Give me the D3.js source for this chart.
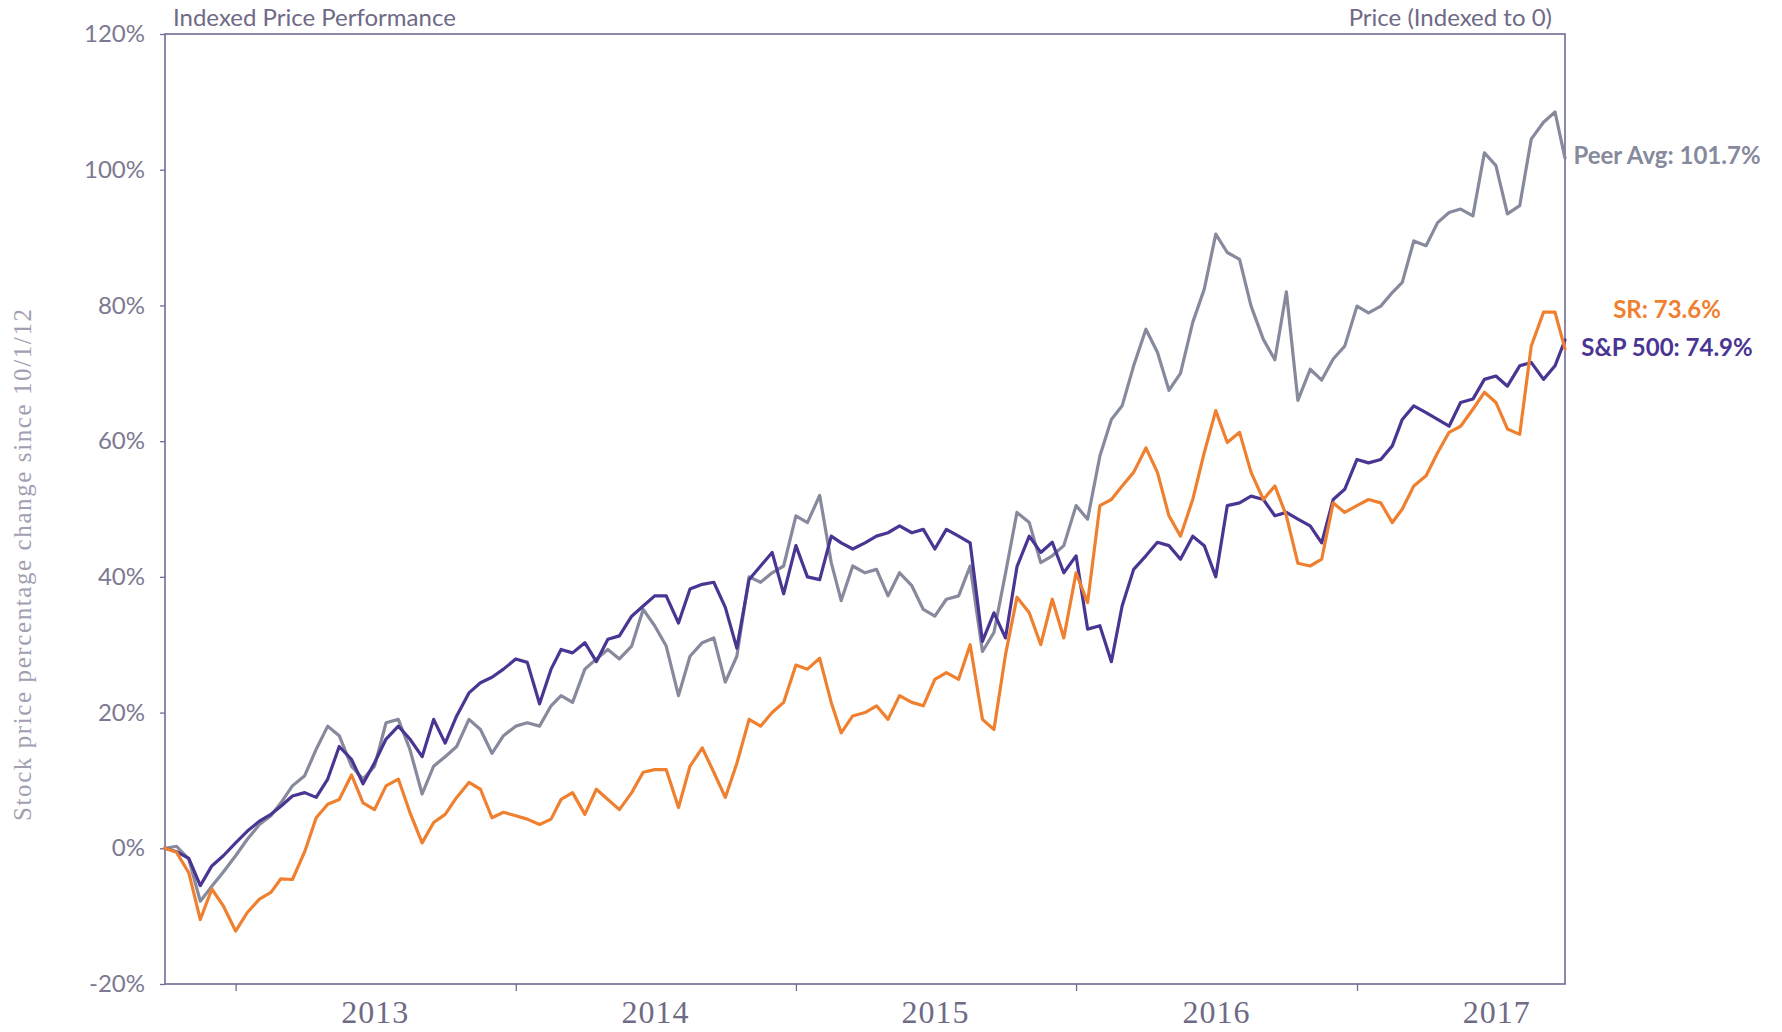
<!DOCTYPE html>
<html>
<head>
<meta charset="utf-8">
<style>
  body { margin: 0; background: #fff; }
  .series { fill: none; stroke-width: 3.2px; stroke-linejoin: round; stroke-linecap: round; }
  .frame { fill: none; stroke: #6f6b94; stroke-width: 1.6px; }
  .axis text { font-family: Lato, sans-serif; font-size: 24px; fill: #7d7891; }
  .axis line { stroke: #6f6b94; stroke-width: 1.3px; }
  .head { font-family: Lato, sans-serif; font-size: 24px; fill: #6f6a85; }
  .year { font-family: "Liberation Serif", serif; font-size: 32px; fill: #6f6a85; letter-spacing: 1px; }
  .ytitle { font-family: "Liberation Serif", serif; font-size: 25px; fill: #a49eb3; }
  .endlab { font-family: Lato, sans-serif; font-size: 24px; font-weight: bold; }
</style>
</head>
<body>
<svg width="1782" height="1032"></svg>
<script src="https://d3js.org/d3.v7.min.js"></script>
<script>

// semi-monthly readings (1st and 16th of each month), 10/1/12 .. 9/29/17, % change
var peerAvg = [0, 0.3, -1.6, -7.8, -5.6, -3.5, -1.1, 1.3, 3.5, 4.8,
  6.7, 9.2, 10.7, 14.6, 18.0, 16.6, 12.1, 10.2, 12.1, 18.5,
  19.0, 14.6, 8.0, 12.1, 13.5, 15.0, 19.0, 17.5, 14.0, 16.6,
  18.0, 18.5, 18.0, 21.0, 22.5, 21.5, 26.4, 27.9, 29.3, 27.9,
  29.8, 35.2, 32.8, 29.8, 22.5, 28.3, 30.3, 31.0, 24.5, 28.3,
  40.0, 39.2, 40.6, 41.6, 49.0, 48.0, 52.0, 42.1, 36.5, 41.6,
  40.6, 41.1, 37.2, 40.6, 38.7, 35.2, 34.2, 36.7, 37.2, 41.6,
  29.0, 31.8, 40.5, 49.5, 48.0, 42.1, 43.1, 44.6, 50.5, 48.5,
  57.8, 63.2, 65.2, 71.1, 76.5, 73.1, 67.5, 70.0, 77.5, 82.4,
  90.5, 87.8, 86.8, 79.9, 75.0, 72.0, 82.0, 66.0, 70.6, 69.0,
  72.1, 74.0, 79.9, 78.9, 79.9, 81.9, 83.4, 89.5, 88.8, 92.2,
  93.7, 94.2, 93.2, 102.5, 100.6, 93.5, 94.7, 104.5, 107.0, 108.5,
  101.7];

var sp500 = [0, -0.5, -1.5, -5.5, -2.6, -1.1, 0.8, 2.5, 4.0, 5.0,
  6.2, 7.7, 8.2, 7.5, 10.2, 15.0, 13.1, 9.5, 12.6, 16.1,
  18.0, 16.1, 13.5, 19.0, 15.5, 19.5, 22.9, 24.4, 25.2, 26.4,
  27.9, 27.4, 21.3, 26.4, 29.3, 28.8, 30.3, 27.5, 30.8, 31.3,
  34.2, 35.7, 37.2, 37.2, 33.2, 38.2, 38.9, 39.2, 35.5, 29.5,
  39.6, 41.6, 43.6, 37.5, 44.6, 40.0, 39.6, 46.0, 45.0, 44.1,
  45.0, 46.0, 46.5, 47.5, 46.5, 47.0, 44.1, 47.0, 46.0, 45.0,
  30.5, 34.7, 31.0, 41.5, 46.0, 43.6, 45.1, 40.6, 43.1, 32.3,
  32.8, 27.5, 35.7, 41.1, 43.1, 45.1, 44.6, 42.6, 46.0, 44.6,
  40.0, 50.5, 50.9, 51.9, 51.4, 49.0, 49.5, 48.5, 47.5, 45.0,
  51.4, 52.9, 57.3, 56.8, 57.3, 59.3, 63.2, 65.2, 64.2, 63.2,
  62.2, 65.7, 66.2, 69.1, 69.6, 68.1, 71.1, 71.6, 69.1, 71.1,
  74.9];

var sr = [0, -0.6, -3.6, -10.5, -6.0, -8.5, -12.2, -9.5, -7.5, -6.5,
  -4.5, -4.6, -0.5, 4.5, 6.5, 7.2, 10.8, 6.7, 5.7, 9.2,
  10.2, 5.3, 0.8, 3.8, 5.0, 7.5, 9.7, 8.7, 4.5, 5.3,
  4.8, 4.3, 3.5, 4.3, 7.2, 8.2, 5.0, 8.7, 7.2, 5.7,
  8.2, 11.2, 11.6, 11.6, 6.0, 12.1, 14.8, 11.2, 7.5, 12.5,
  19.0, 18.0, 20.0, 21.5, 27.0, 26.4, 28.0, 21.5, 17.0, 19.5,
  20.0, 21.0, 19.0, 22.5, 21.5, 21.0, 24.9, 25.9, 24.9, 30.0,
  19.0, 17.5, 28.5, 37.0, 34.7, 30.0, 36.7, 31.0, 40.6, 36.2,
  50.5, 51.4, 53.4, 55.4, 59.0, 55.4, 49.0, 46.0, 51.4, 58.3,
  64.5, 59.8, 61.3, 55.4, 51.4, 53.4, 49.0, 42.0, 41.6, 42.6,
  50.9, 49.5, 50.5, 51.4, 50.9, 48.0, 50.0, 53.4, 54.9, 58.3,
  61.3, 62.2, 64.7, 67.2, 65.7, 61.8, 61.0, 74.0, 79.0, 79.0,
  73.6];

var yTicks = [-20, 0, 20, 40, 60, 80, 100, 120];
var years = [2013, 2014, 2015, 2016, 2017];
var seriesNames = ["Peer Avg", "S&P 500", "SR"];
var seriesColors = ["#868a9c", "#4a3593", "#ef8030"];

// sample dates: 1st and 16th of each month, last point 9/29/17
var dates = [];
for (var i = 0; i < 120; i++) {
  dates.push(new Date(2012, 9 + Math.floor(i / 2), i % 2 ? 16 : 1));
}
dates.push(new Date(2017, 8, 29));

var svg = d3.select("svg"),
    margin = {top: 34, right: 217, bottom: 48, left: 165},
    width = +svg.attr("width") - margin.left - margin.right,
    height = +svg.attr("height") - margin.top - margin.bottom,
    g = svg.append("g").attr("transform", "translate(" + margin.left + "," + margin.top + ")");

var x = d3.scaleTime()
    .domain([dates[0], dates[dates.length - 1]])
    .range([0, width]);

var y = d3.scaleLinear()
    .domain([-20, 120])
    .range([height, 0]);

var line = d3.line()
    .x(function(d, i) { return x(dates[i]); })
    .y(function(d) { return y(d); });

// y axis
var yAxis = g.append("g")
    .attr("class", "axis")
    .call(d3.axisLeft(y).tickValues(yTicks).tickSize(5).tickPadding(15)
      .tickFormat(function(d) { return d + "%"; }));
yAxis.select(".domain").remove();

// x axis: ticks at year starts, labels mid-year
var xAxis = g.append("g")
    .attr("class", "axis")
    .attr("transform", "translate(0," + height + ")")
    .call(d3.axisBottom(x).tickValues(years.map(function(yr) { return new Date(yr, 0, 1); }))
      .tickSize(7).tickFormat(""));
xAxis.select(".domain").remove();

g.selectAll(".year")
    .data(years)
  .enter().append("text")
    .attr("class", "year")
    .attr("x", function(d) { return x(new Date(d, 6, 2)); })
    .attr("y", height + 39)
    .attr("text-anchor", "middle")
    .text(function(d) { return d; });

// frame
g.append("rect")
    .attr("class", "frame")
    .attr("width", width)
    .attr("height", height);

// lines
var allSeries = [peerAvg, sp500, sr];
allSeries.forEach(function(s, k) {
  g.append("path")
      .datum(s)
      .attr("class", "series")
      .attr("stroke", seriesColors[k])
      .attr("d", line);
});

// end labels
var labOffset = [-3, 8, -39];
allSeries.forEach(function(s, k) {
  var last = s[s.length - 1];
  g.append("text")
      .attr("class", "endlab")
      .attr("x", width + 102)
      .attr("y", y(last) + labOffset[k])
      .attr("dy", "0.35em")
      .attr("text-anchor", "middle")
      .attr("fill", seriesColors[k])
      .text(seriesNames[k] + ": " + last.toFixed(1) + "%");
});

// headings
svg.append("text")
    .attr("class", "head")
    .attr("x", 173)
    .attr("y", 26)
    .text("Indexed Price Performance");

svg.append("text")
    .attr("class", "head")
    .attr("x", 1552)
    .attr("y", 26)
    .attr("text-anchor", "end")
    .text("Price (Indexed to 0)");

svg.append("text")
    .attr("class", "ytitle")
    .attr("transform", "translate(22,565) rotate(-90)")
    .attr("text-anchor", "middle")
    .attr("dy", "0.35em")
    .attr("textLength", 512)
    .attr("lengthAdjust", "spacing")
    .text("Stock price percentage change since 10/1/12");

</script>
</body>
</html>
